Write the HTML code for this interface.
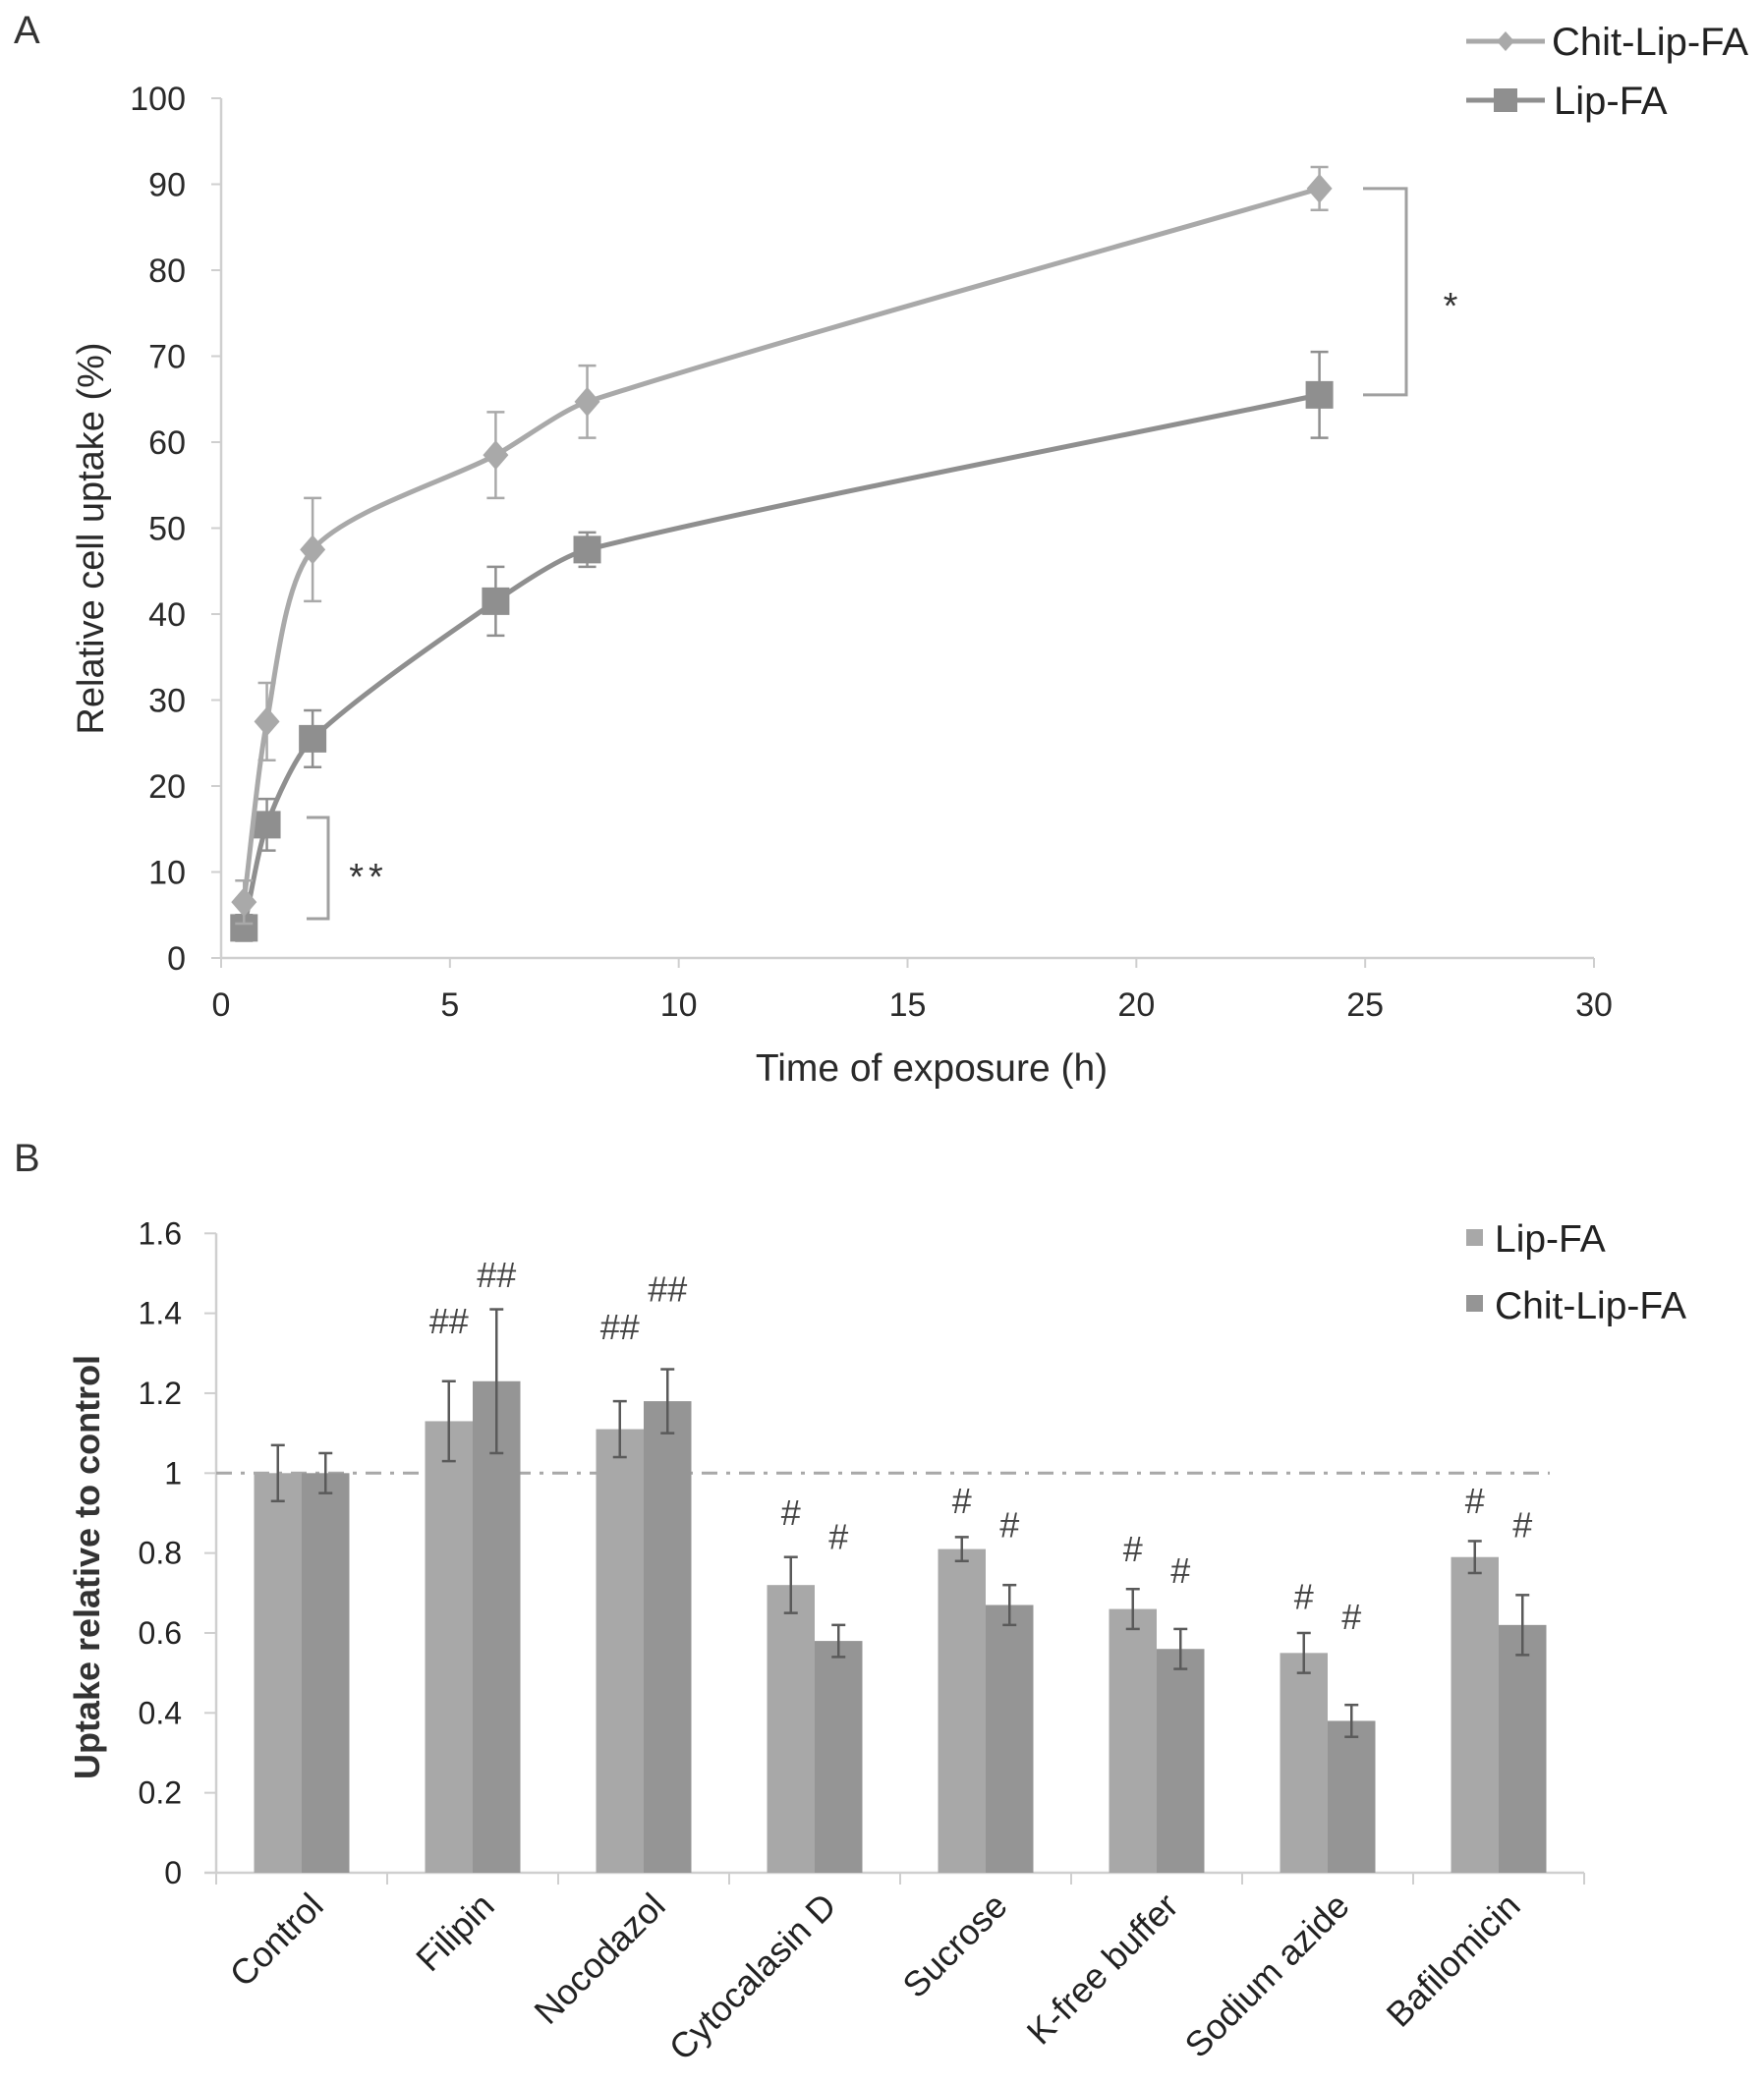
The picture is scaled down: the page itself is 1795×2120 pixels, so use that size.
<!DOCTYPE html>
<html><head><meta charset="utf-8"><style>
html,body{margin:0;padding:0;background:#fff;}
svg{display:block;font-family:"Liberation Sans",sans-serif;}
</style></head><body>
<svg id="fig" width="1795" height="2120" viewBox="0 0 1795 2120">
<text x="14" y="44" font-size="40" fill="#333">A</text>
<text x="14" y="1192" font-size="40" fill="#333">B</text>
<g id="chartA"></g>
<g id="chartB"></g>
</svg>
<script>
// ---- Panel A data ----
const timesA = [0.5, 1, 2, 6, 8, 24];
const chitValues = [6.5, 27.5, 47.5, 58.5, 64.7, 89.5];
const chitErrors = [2.5, 4.5, 6, 5, 4.2, 2.5];
const lipValues = [3.5, 15.5, 25.5, 41.5, 47.5, 65.5];
const lipErrors = [1.5, 3, 3.3, 4, 2, 5];
const xTicksA = [0, 5, 10, 15, 20, 25, 30];
const yTicksA = [0, 10, 20, 30, 40, 50, 60, 70, 80, 90, 100];

// ---- Panel B data ----
const categoriesB = ["Control","Filipin","Nocodazol","Cytocalasin D","Sucrose","K-free buffer","Sodium azide","Bafilomicin"];
const lipB = [1.0, 1.13, 1.11, 0.72, 0.81, 0.66, 0.55, 0.79];
const lipBErr = [0.07, 0.10, 0.07, 0.07, 0.03, 0.05, 0.05, 0.04];
const chitB = [1.0, 1.23, 1.18, 0.58, 0.67, 0.56, 0.38, 0.62];
const chitBErr = [0.05, 0.18, 0.08, 0.04, 0.05, 0.05, 0.04, 0.075];
const lipMarks = ["", "##", "##", "#", "#", "#", "#", "#"];
const chitMarks = ["", "##", "##", "#", "#", "#", "#", "#"];
const lipMarkY = [0, 1.35, 1.335, 0.87, 0.90, 0.78, 0.66, 0.90];
const chitMarkY = [0, 1.465, 1.43, 0.81, 0.84, 0.725, 0.61, 0.84];
const yTicksB = [0, 0.2, 0.4, 0.6, 0.8, 1, 1.2, 1.4, 1.6];
const yTickLabelsB = ["0","0.2","0.4","0.6","0.8","1","1.2","1.4","1.6"];

const NS = "http://www.w3.org/2000/svg";
function mk(parent, tag, attrs, text){
  const e = document.createElementNS(NS, tag);
  for (const k in attrs) e.setAttribute(k, attrs[k]);
  if (text !== undefined) e.textContent = text;
  parent.appendChild(e);
  return e;
}

// ===== Panel A =====
const A = document.getElementById('chartA');
const ax = v => 225 + v * (1622 - 225) / 30;
const ay = v => 975 - v * 8.75;
let el;
el = mk(A, 'line', {x1: ax(0), y1: ay(0), x2: ax(0), y2: ay(100), stroke: '#cfcfcf', 'stroke-width': 2.5});


el = mk(A, 'line', {x1: ax(0), y1: ay(0), x2: ax(30), y2: ay(0), stroke: '#cfcfcf', 'stroke-width': 2.5});


yTicksA.forEach(t => {
  mk(A, 'line', {x1: ax(0) - 10, y1: ay(t), x2: ax(0), y2: ay(t), stroke: '#cfcfcf', 'stroke-width': 2});
  el = mk(A, 'text', {x: 189, y: ay(t) + 12, 'font-size': 34, 'text-anchor': 'end', fill: '#2a2a2a'}, String(t));
  
  
});
xTicksA.forEach(t => {
  mk(A, 'line', {x1: ax(t), y1: ay(0), x2: ax(t), y2: ay(0) + 10, stroke: '#cfcfcf', 'stroke-width': 2});
  el = mk(A, 'text', {x: ax(t), y: 1034, 'font-size': 34, 'text-anchor': 'middle', fill: '#2a2a2a'}, String(t));
  
  
});
el = mk(A, 'text', {x: 948, y: 1100, 'font-size': 39, 'text-anchor': 'middle', fill: '#2a2a2a'}, 'Time of exposure (h)');


el = mk(A, 'text', {x: 0, y: 0, 'font-size': 38, 'text-anchor': 'middle', fill: '#2a2a2a', transform: 'translate(105,548) rotate(-90)'}, 'Relative cell uptake (%)');



function smoothPath(xs, ys){
  const p = xs.map((x, i) => [ax(x), ay(ys[i])]);
  const n = p.length;
  const dir = p.map((pt, i) => {
    const a = p[Math.max(0, i-1)], b = p[Math.min(n-1, i+1)];
    const dx = b[0]-a[0], dy = b[1]-a[1], L = Math.hypot(dx, dy) || 1;
    return [dx/L, dy/L];
  });
  let d = 'M' + p[0][0] + ',' + p[0][1];
  for (let i = 0; i < n - 1; i++){
    const L = Math.hypot(p[i+1][0]-p[i][0], p[i+1][1]-p[i][1]) * 0.25;
    const c1 = [p[i][0] + dir[i][0]*L, p[i][1] + dir[i][1]*L];
    const c2 = [p[i+1][0] - dir[i+1][0]*L, p[i+1][1] - dir[i+1][1]*L];
    d += ' C' + c1[0] + ',' + c1[1] + ' ' + c2[0] + ',' + c2[1] + ' ' + p[i+1][0] + ',' + p[i+1][1];
  }
  return d;
}
function drawSeriesA(vals, errs, color, marker, name){
  const g = mk(A, 'g', {});
  
  
  timesA.forEach((t, i) => {
    const x = ax(t);
    mk(g, 'line', {x1: x, y1: ay(vals[i] + errs[i]), x2: x, y2: ay(vals[i] - errs[i]), stroke: color, 'stroke-width': 2.5});
    mk(g, 'line', {x1: x - 9, y1: ay(vals[i] + errs[i]), x2: x + 9, y2: ay(vals[i] + errs[i]), stroke: color, 'stroke-width': 2.5});
    mk(g, 'line', {x1: x - 9, y1: ay(vals[i] - errs[i]), x2: x + 9, y2: ay(vals[i] - errs[i]), stroke: color, 'stroke-width': 2.5});
  });
  mk(g, 'path', {d: smoothPath(timesA, vals), fill: 'none', stroke: color, 'stroke-width': 5});
  timesA.forEach((t, i) => {
    const x = ax(t), y = ay(vals[i]);
    let mm;
    if (marker === 'diamond') mm = mk(g, 'polygon', {points: `${x},${y-15} ${x+13},${y} ${x},${y+15} ${x-13},${y}`, fill: color});
    else mm = mk(g, 'rect', {x: x - 14, y: y - 14, width: 28, height: 28, fill: color});
    
    
  });
}
drawSeriesA(lipValues, lipErrors, '#8f8f8f', 'square', 'lip-fa');
drawSeriesA(chitValues, chitErrors, '#a9a9a9', 'diamond', 'chit-lip-fa');

// significance brackets
el = mk(A, 'path', {d: `M1387,${ay(89.5)} L1431,${ay(89.5)} L1431,${ay(65.5)} L1387,${ay(65.5)}`, fill: 'none', stroke: '#a0a0a0', 'stroke-width': 3});


el = mk(A, 'text', {x: 1476, y: 324, 'font-size': 38, 'text-anchor': 'middle', fill: '#333'}, '*');


el = mk(A, 'path', {d: 'M312,832 L334,832 L334,935 L312,935', fill: 'none', stroke: '#a0a0a0', 'stroke-width': 3});


el = mk(A, 'text', {x: 375, y: 905, 'font-size': 38, 'text-anchor': 'middle', fill: '#333', 'letter-spacing': 5}, '**');



// legend A
const legA = mk(A, 'g', {});


mk(legA, 'line', {x1: 1492, y1: 42, x2: 1572, y2: 42, stroke: '#a9a9a9', 'stroke-width': 5});
mk(legA, 'polygon', {points: '1532,32 1541,42 1532,52 1523,42', fill: '#a9a9a9'});
el = mk(legA, 'text', {x: 1579, y: 56, 'font-size': 40, fill: '#222'}, 'Chit-Lip-FA');


mk(legA, 'line', {x1: 1492, y1: 102, x2: 1572, y2: 102, stroke: '#8f8f8f', 'stroke-width': 5});
mk(legA, 'rect', {x: 1520, y: 90, width: 24, height: 24, fill: '#8f8f8f'});
el = mk(legA, 'text', {x: 1581, y: 116, 'font-size': 40, fill: '#222'}, 'Lip-FA');



// ===== Panel B =====
const B = document.getElementById('chartB');
const x0B = 220, groupW = 174;
const by = v => 1906 - v * 406.7;
const gStart = i => x0B + i * groupW;
el = mk(B, 'line', {x1: x0B, y1: by(0), x2: x0B, y2: by(1.6), stroke: '#cfcfcf', 'stroke-width': 2.5});


el = mk(B, 'line', {x1: x0B - 12, y1: by(0), x2: x0B + groupW * categoriesB.length, y2: by(0), stroke: '#cfcfcf', 'stroke-width': 2.5});


yTicksB.forEach((t, i) => {
  mk(B, 'line', {x1: x0B - 12, y1: by(t), x2: x0B, y2: by(t), stroke: '#cfcfcf', 'stroke-width': 2});
  el = mk(B, 'text', {x: 185, y: by(t) + 11, 'font-size': 32, 'text-anchor': 'end', fill: '#222'}, yTickLabelsB[i]);
  
  
});
for (let i = 0; i <= categoriesB.length; i++){
  mk(B, 'line', {x1: gStart(i), y1: by(0), x2: gStart(i), y2: by(0) + 12, stroke: '#cfcfcf', 'stroke-width': 2});
}
el = mk(B, 'line', {x1: x0B, y1: by(1), x2: 1577, y2: by(1), stroke: '#a8a8a8', 'stroke-width': 3, 'stroke-dasharray': '16,9,4,9'});



categoriesB.forEach((c, i) => {
  const c0 = gStart(i) + groupW / 2;
  const bw = 48.5;
  const lx = c0 - bw, cx = c0;
  el = mk(B, 'rect', {x: lx, y: by(lipB[i]), width: bw, height: by(0) - by(lipB[i]), fill: '#a8a8a8'});
  
  
  el = mk(B, 'rect', {x: cx, y: by(chitB[i]), width: bw, height: by(0) - by(chitB[i]), fill: '#959595'});
  
  
  [[lx + bw/2, lipB[i], lipBErr[i]], [cx + bw/2, chitB[i], chitBErr[i]]].forEach(([x, v, e]) => {
    const g = mk(B, 'g', {stroke: '#5a5a5a', 'stroke-width': 2.5});
    
    
    mk(g, 'line', {x1: x, y1: by(v + e), x2: x, y2: by(v - e)});
    mk(g, 'line', {x1: x - 7, y1: by(v + e), x2: x + 7, y2: by(v + e)});
    mk(g, 'line', {x1: x - 7, y1: by(v - e), x2: x + 7, y2: by(v - e)});
  });
  if (lipMarks[i]){
    el = mk(B, 'text', {x: lx + bw/2, y: by(lipMarkY[i]), 'font-size': 36, 'text-anchor': 'middle', fill: '#444'}, lipMarks[i]);
    
    
  }
  if (chitMarks[i]){
    el = mk(B, 'text', {x: cx + bw/2, y: by(chitMarkY[i]), 'font-size': 36, 'text-anchor': 'middle', fill: '#444'}, chitMarks[i]);
    
    
  }
  el = mk(B, 'text', {x: 0, y: 0, 'font-size': 36, 'text-anchor': 'end', fill: '#222', transform: `translate(${c0 + 24},${1942}) rotate(-45)`}, c);
  
  
});
el = mk(B, 'text', {x: 0, y: 0, 'font-size': 36, 'font-weight': 'bold', 'text-anchor': 'middle', fill: '#333', transform: 'translate(101,1595) rotate(-90)'}, 'Uptake relative to control');



const legB = mk(B, 'g', {});


mk(legB, 'rect', {x: 1492, y: 1251, width: 17, height: 17, fill: '#a8a8a8'});
el = mk(legB, 'text', {x: 1521, y: 1274, 'font-size': 39, fill: '#222'}, 'Lip-FA');


mk(legB, 'rect', {x: 1492, y: 1318, width: 17, height: 17, fill: '#959595'});
el = mk(legB, 'text', {x: 1521, y: 1342, 'font-size': 39, fill: '#222'}, 'Chit-Lip-FA');


</script>
</body></html>
